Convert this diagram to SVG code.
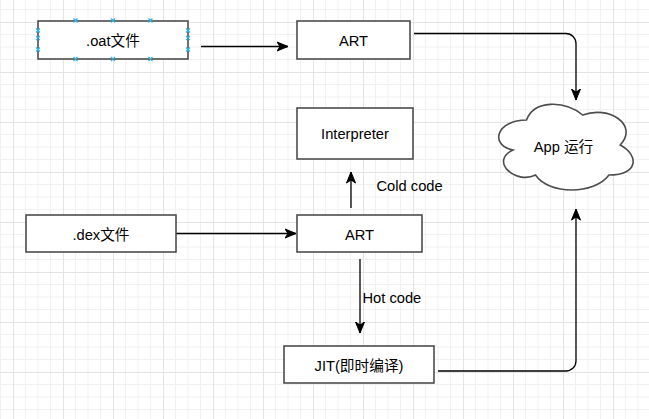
<svg xmlns="http://www.w3.org/2000/svg" width="649" height="419" viewBox="0 0 649 419">
<defs>
<pattern id="grid" patternUnits="userSpaceOnUse" x="13" y="22" width="50" height="50">
<path d="M12.5,0V50M25,0V50M37.5,0V50M0,12.5H50M0,25H50M0,37.5H50" stroke="#f1f1f1" stroke-width="1" fill="none"/>
<path d="M0.5,0V50M0,0.5H50" stroke="#e4e4e4" stroke-width="1" fill="none"/>
</pattern>
<marker id="arr" markerUnits="userSpaceOnUse" markerWidth="13" markerHeight="11" viewBox="-11.5 -5.5 13 11" refX="0" refY="0" orient="auto">
<path d="M0,0 L-11,-4.5 L-8,0 L-11,4.5 Z" fill="#000" stroke="#000" stroke-width="1"/>
</marker>
</defs>
<style>
.box{fill:#fff;stroke:#4d4d4d;stroke-width:1.6}
.t{font-family:"Liberation Sans","Noto Sans CJK SC",sans-serif;font-size:14.7px;fill:#000;text-anchor:middle}
.lbl{font-family:"Liberation Sans","Noto Sans CJK SC",sans-serif;font-size:14.7px;fill:#000}
.c{fill:none;stroke:#000;stroke-width:1.3;marker-end:url(#arr)}
.h{fill:none;stroke:#29b6f2;stroke-width:1.2}
</style>
<rect x="0" y="0" width="649" height="419" fill="#fff"/>
<rect x="0" y="0" width="649" height="419" fill="url(#grid)"/>

<g id="connectors">
<path class="c" d="M201,46.5 L288,46.5"/>
<path class="c" d="M414,33.5 L566,33.5 A10,10 0 0 1 576,43.5 L576,100"/>
<path class="c" d="M351,208 L351,172"/>
<path class="c" d="M176,233.5 L296,233.5"/>
<path class="c" d="M360,259 L360,333"/>
<path class="c" d="M438,371 L566,371 A10,10 0 0 0 576,361 L576,209"/>
<text class="lbl" x="376.5" y="191">Cold code</text>
<text class="lbl" x="362.5" y="303">Hot code</text>
</g>

<g id="oat">
<rect class="box" x="38" y="21" width="150" height="38"/>
<text class="t" x="113" y="45.5">.oat文件</text>
<path class="h" d="M73.5,18.5l4,4m0,-4l-4,4M111,18.5l4,4m0,-4l-4,4M148.5,18.5l4,4m0,-4l-4,4M73.5,57l4,4m0,-4l-4,4M111,57l4,4m0,-4l-4,4M148.5,57l4,4m0,-4l-4,4M36,28.5l4,4m0,-4l-4,4M36,36l4,4m0,-4l-4,4M36,47.5l4,4m0,-4l-4,4M186,28.5l4,4m0,-4l-4,4M186,36l4,4m0,-4l-4,4M186,47.5l4,4m0,-4l-4,4"/>
</g>

<g id="art-top">
<rect class="box" x="297" y="21" width="113" height="38"/>
<text class="t" x="353.5" y="45.5">ART</text>
</g>

<g id="interpreter">
<rect class="box" x="297" y="108" width="116" height="51"/>
<text class="t" x="355" y="139">Interpreter</text>
</g>

<g id="dex">
<rect class="box" x="26" y="215" width="150" height="37"/>
<text class="t" x="101" y="239.5">.dex文件</text>
</g>

<g id="art-mid">
<rect class="box" x="297" y="215" width="125" height="37"/>
<text class="t" x="359.5" y="239.5">ART</text>
</g>

<g id="jit">
<rect class="box" x="284" y="346" width="150" height="37"/>
<text class="t" x="359" y="370.5">JIT(即时编译)</text>
</g>

<g id="cloud">
<path class="box" d="M526.5,120 C496.5,120 489,145 513,150 C489,161 516,185 535.5,175 C549,195 594,195 609,175 C639,175 639,155 620.25,145 C639,125 609,105 582.75,115 C564,100 534,100 526.5,120 Z"/>
<text class="t" x="563.5" y="152">App 运行</text>
</g>
</svg>
